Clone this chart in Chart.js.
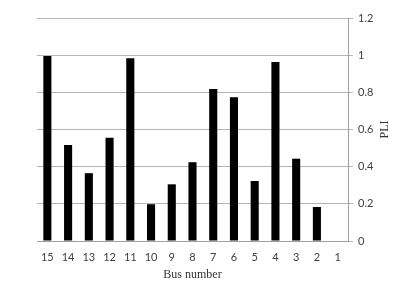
<!DOCTYPE html>
<html>
<head>
<meta charset="utf-8">
<script src="https://cdn.jsdelivr.net/npm/chart.js@4"></script>
<style>
  html, body { margin: 0; padding: 0; background: #fff; }
  #wrap { width: 407px; height: 282px; }
</style>
</head>
<body>
<div id="wrap"><canvas id="pliChart" width="407" height="282"></canvas></div>
<script>
const busNumbers = ['15', '14', '13', '12', '11', '10', '9', '8', '7', '6', '5', '4', '3', '2', '1'];
const pliValues = [0.996, 0.517, 0.365, 0.556, 0.984, 0.198, 0.305, 0.424, 0.818, 0.773, 0.323, 0.963, 0.443, 0.183, 0];
const yMin = 0;
const yMax = 1.2;
const yStep = 0.2;
const xTitle = 'Bus number';
const yTitle = 'PLI';

// right-hand axis title reads bottom-to-top, so draw it ourselves
const sideTitle = {
    id: 'sideTitle',
    afterDraw(chart) {
        const { ctx, chartArea } = chart;
        ctx.save();
        ctx.translate(385, (chartArea.top + chartArea.bottom) / 2);
        ctx.rotate(-Math.PI / 2);
        ctx.font = '12px "Liberation Serif"';
        ctx.fillStyle = '#333';
        ctx.textAlign = 'center';
        ctx.textBaseline = 'middle';
        ctx.fillText(yTitle, 0, 0);
        ctx.restore();
    }
};

const ctx = document.getElementById('pliChart').getContext('2d');
new Chart(ctx, {
    type: 'bar',
    data: {
        labels: busNumbers,
        datasets: [{
            label: yTitle,
            data: pliValues,
            backgroundColor: '#000',
            borderWidth: 0,
            barPercentage: 0.39,
            categoryPercentage: 1
        }]
    },
    options: {
        responsive: false,
        animation: false,
        layout: { padding: { left: 37, top: 18, right: 0, bottom: 0 } },
        plugins: {
            legend: { display: false },
            tooltip: { enabled: false }
        },
        scales: {
            x: {
                grid: { display: false, drawTicks: false },
                border: { display: true, color: '#a0a0a0' },
                ticks: {
                    padding: 10,
                    color: '#404040',
                    font: { family: 'Lato', size: 11 },
                    maxRotation: 0
                },
                title: {
                    display: true,
                    text: xTitle,
                    color: '#333',
                    font: { family: 'Liberation Serif', size: 12 },
                    padding: { top: 0, bottom: 0 }
                },
                afterFit(scale) { scale.height = 41; }
            },
            y: {
                position: 'right',
                min: yMin,
                max: yMax,
                grid: { color: '#b4b4b4', tickLength: 5 },
                border: { display: true, color: '#a0a0a0' },
                ticks: {
                    stepSize: yStep,
                    padding: 5,
                    color: '#404040',
                    font: { family: 'Lato', size: 11 },
                    callback: (v) => String(Math.round(v * 10) / 10)
                },
                afterFit(scale) { scale.width = 59; }
            }
        }
    },
    plugins: [sideTitle]
});
</script>
</body>
</html>
